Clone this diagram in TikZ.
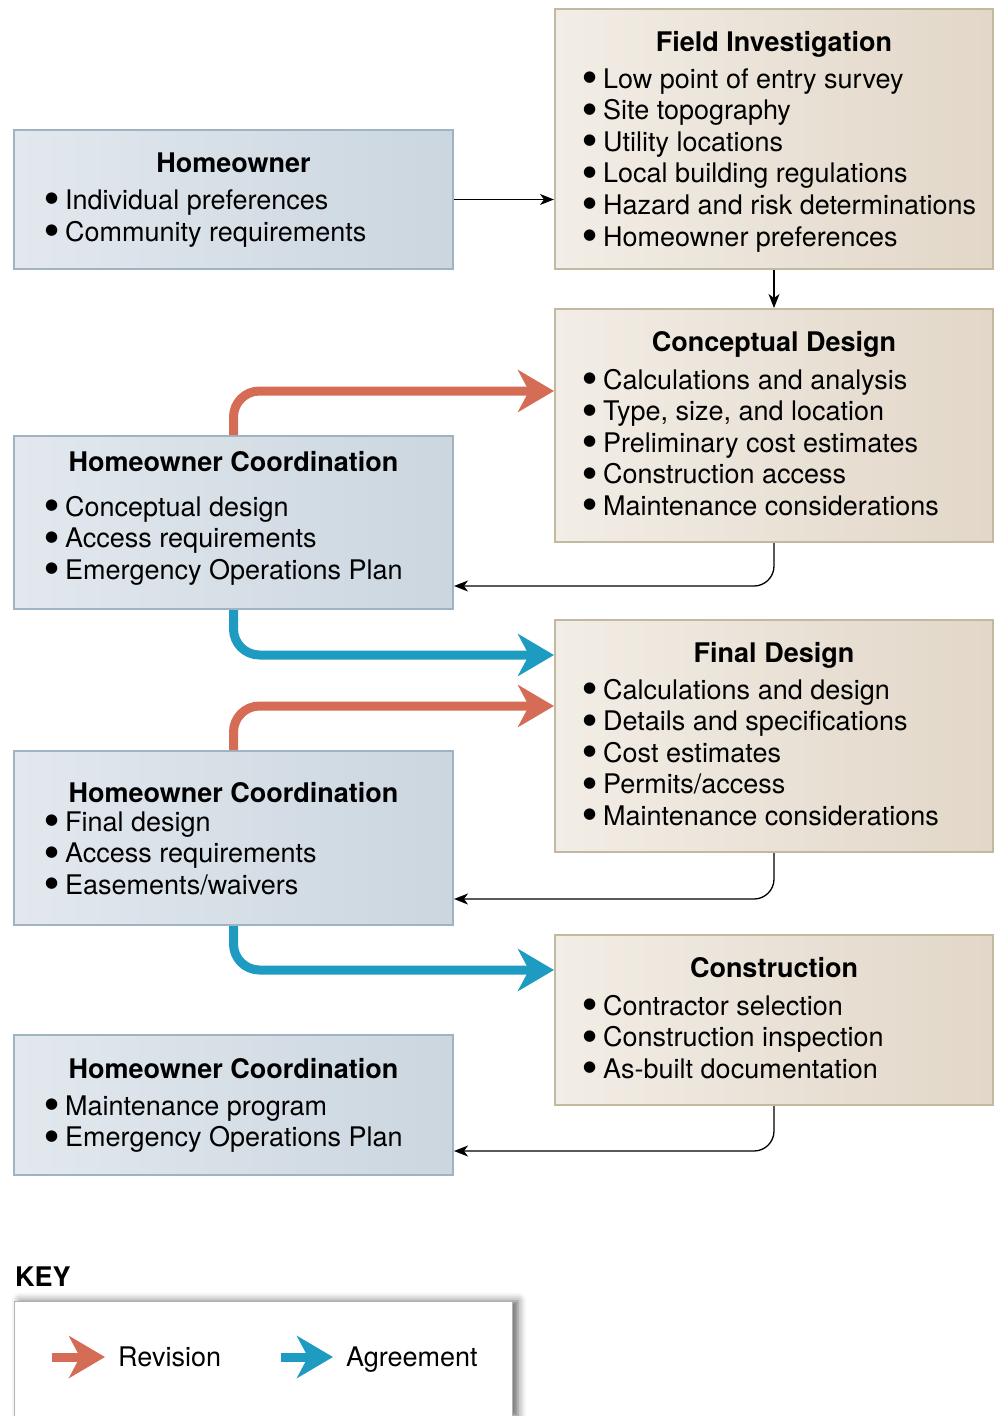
\documentclass[tikz,border=0pt]{standalone}
\usepackage{fontspec}
\setmainfont{TeX Gyre Heros}
\newfontfamily\symfont{DejaVu Sans}
\usepackage{tikz}
\usetikzlibrary{arrows.meta,shadows.blur}

\definecolor{hoLight}{HTML}{E2E8EE}
\definecolor{hoDark}{HTML}{CBD6DF}
\definecolor{hoLine}{HTML}{9FB3C3}
\definecolor{stLight}{HTML}{F2EDE6}
\definecolor{stDark}{HTML}{E2D7C8}
\definecolor{stLine}{HTML}{C3B9A0}
\definecolor{revRed}{HTML}{D56C56}
\definecolor{agrBlue}{HTML}{1E9BC1}

\newcommand\blt{\makebox[20pt][l]{\raisebox{6.5pt}{\symfont\fontsize{15}{15}\selectfont ●}}}

\begin{document}
\begin{tikzpicture}[x=1pt,y=-1pt,
    font=\fontsize{27}{32}\selectfont,
    hobox/.style={draw=hoLine,line width=2pt,left color=hoLight,right color=hoDark,
      minimum width=439pt,inner sep=0pt},
    stagebox/.style={draw=stLine,line width=2pt,left color=stLight,right color=stDark,
      minimum width=438pt,inner sep=0pt},
    title/.style={font=\fontsize{27}{32}\selectfont\bfseries,anchor=base,inner sep=0pt},
    item/.style={anchor=base west,inner sep=0pt},
    flow/.style={line width=1.3pt,-{Stealth[length=14pt,width=11pt,inset=4pt]},rounded corners=20pt},
    bigarrow/.style={line width=9pt,-{Stealth[length=36pt,width=42pt,inset=11pt]},rounded corners=26pt},
    revision/.style={bigarrow,draw=revRed,color=revRed},
    agreement/.style={bigarrow,draw=agrBlue,color=agrBlue}]
  \useasboundingbox (0,0) rectangle (995,1416);

  % boxes
  \node[hobox,minimum height=139pt] (ho) at (233.5,199.5) {};
  \node[stagebox,minimum height=260pt] (fi) at (774,139) {};
  \node[stagebox,minimum height=233pt] (cd) at (774,425.5) {};
  \node[hobox,minimum height=173pt] (hcA) at (233.5,522.5) {};
  \node[stagebox,minimum height=232pt] (fd) at (774,736) {};
  \node[hobox,minimum height=174pt] (hcB) at (233.5,838) {};
  \node[stagebox,minimum height=170pt] (cn) at (774,1020) {};
  \node[hobox,minimum height=140pt] (hcC) at (233.5,1105) {};

  % homeowner
  \node[title] (hoT) at (233.5,172) {Homeowner};
  \node[item] (ho1) at (45,209) {\blt Individual preferences};
  \node[item] (ho2) at (45,241) {\blt Community requirements};

  % field investigation
  \node[title] (fiT) at (774,51) {Field Investigation};
  \foreach \t [count=\i] in {Low point of entry survey,Site topography,Utility locations,
      Local building regulations,Hazard and risk determinations,Homeowner preferences}
    \node[item] (fi\i) at (583,{88+31.6*(\i-1)}) {\blt\t};

  % conceptual design
  \node[title] (cdT) at (774,351) {Conceptual Design};
  \foreach \t [count=\i] in {Calculations and analysis,{Type, size, and location},
      Preliminary cost estimates,Construction access,Maintenance considerations}
    \node[item] (cd\i) at (583,{389+31.6*(\i-1)}) {\blt\t};

  % coordination 1
  \node[title] (hcAT) at (233.5,471) {Homeowner Coordination};
  \foreach \t [count=\i] in {Conceptual design,Access requirements,Emergency Operations Plan}
    \node[item] (hcA\i) at (45,{516+31.6*(\i-1)}) {\blt\t};

  % final design
  \node[title] (fdT) at (774,662) {Final Design};
  \foreach \t [count=\i] in {Calculations and design,Details and specifications,
      Cost estimates,Permits/access,Maintenance considerations}
    \node[item] (fd\i) at (583,{699+31.6*(\i-1)}) {\blt\t};

  % coordination 2
  \node[title] (hcBT) at (233.5,802) {Homeowner Coordination};
  \foreach \t [count=\i] in {Final design,Access requirements,Easements/waivers}
    \node[item] (hcB\i) at (45,{831+31.6*(\i-1)}) {\blt\t};

  % construction
  \node[title] (cnT) at (774,977) {Construction};
  \foreach \t [count=\i] in {Contractor selection,Construction inspection,As-built documentation}
    \node[item] (cn\i) at (583,{1015+31.6*(\i-1)}) {\blt\t};

  % coordination 3
  \node[title] (hcCT) at (233.5,1078) {Homeowner Coordination};
  \foreach \t [count=\i] in {Maintenance program,Emergency Operations Plan}
    \node[item] (hcC\i) at (45,{1115+31.6*(\i-1)}) {\blt\t};

  % connectors
  \draw[flow] (ho.east) -- (fi.west |- ho.east);
  \draw[flow] (fi.south) -- (cd.north);
  \draw[revision] (hcA.north) |- (cd.west |- 0,391);
  \draw[flow] (cd.south) |- (hcA.east |- 0,586);
  \draw[agreement] (hcA.south) |- (fd.west |- 0,655);
  \draw[revision] (hcB.north) |- (fd.west |- 0,706);
  \draw[flow] (fd.south) |- (hcB.east |- 0,899);
  \draw[agreement] (hcB.south) |- (cn.west |- 0,970);
  \draw[flow] (cn.south) |- (hcC.east |- 0,1151);

  % key
  \node[font=\fontsize{27}{32}\selectfont\bfseries,anchor=base west,inner sep=0pt] (keyT) at (15,1286) {KEY};
  \node[draw=black!30,line width=1pt,fill=white,minimum width=498pt,minimum height=115pt,
    blur shadow={shadow xshift=6pt,shadow yshift=0pt,shadow blur radius=8pt,shadow opacity=60}] (keyBox) at (263,1358.5) {};
  \coordinate (revA) at (52,1357);
  \coordinate (revB) at (105,1357);
  \coordinate (agrA) at (281,1357);
  \coordinate (agrB) at (333,1357);
  \draw[revision] (revA) -- (revB);
  \draw[agreement] (agrA) -- (agrB);
  \node[item] (revL) at (118,1366) {Revision};
  \node[item] (agrL) at (346,1366) {Agreement};
\end{tikzpicture}
\end{document}
